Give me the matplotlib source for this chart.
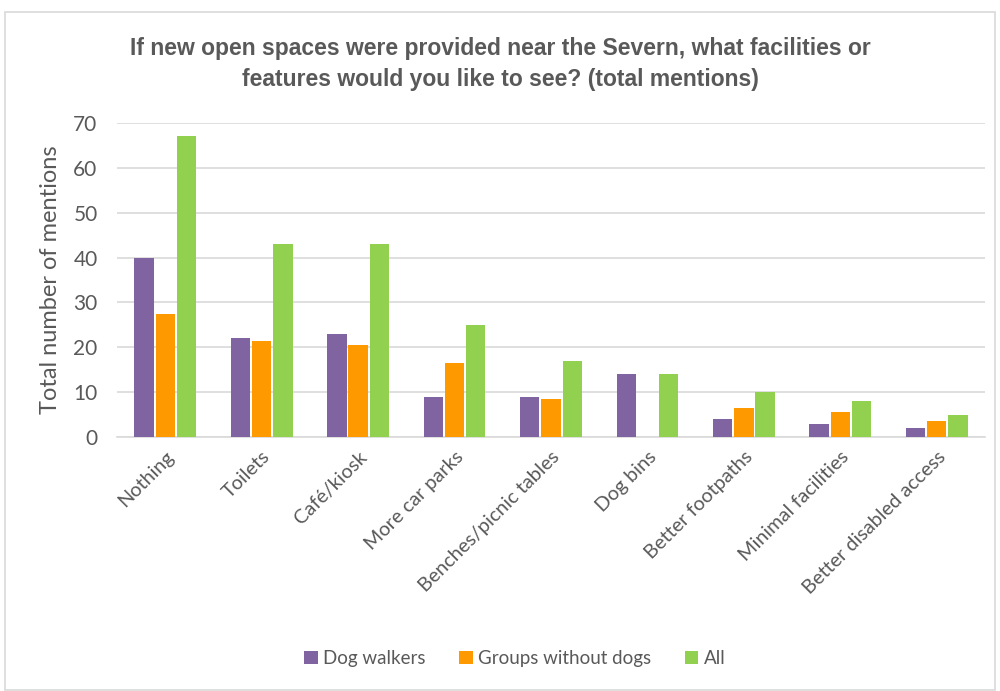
import numpy as np
import matplotlib.pyplot as plt
from matplotlib.patches import Rectangle

categories = ['Nothing', 'Toilets', 'Café/kiosk', 'More car parks', 'Benches/picnic tables',
              'Dog bins', 'Better footpaths', 'Minimal facilities', 'Better disabled access']
dog_walkers = [40, 22, 23, 9, 9, 14, 4, 3, 2]
groups_without_dogs = [27.5, 21.5, 20.5, 16.5, 8.5, 0, 6.5, 5.5, 3.5]
all_groups = [67, 43, 43, 25, 17, 14, 10, 8, 5]

grey = '#595959'
plt.rcParams['font.family'] = ['Lato', 'DejaVu Sans']

fig = plt.figure(figsize=(10, 6.91), dpi=100)
ax = fig.add_axes([0.117, 0.3676, 0.868, 0.4544])

# light frame around the whole chart area
fig.patches.append(Rectangle((0.005, 0.002), 0.99, 0.98, transform=fig.transFigure,
                             fill=False, edgecolor='#d9d9d9', linewidth=1.2))

x = np.arange(len(categories))
w = 0.2
gap = 0.02
ax.bar(x - w - gap, dog_walkers, w, color='#8064A2', label='Dog walkers', zorder=3)
ax.bar(x, groups_without_dogs, w, color='#FF9900', label='Groups without dogs', zorder=3)
ax.bar(x + w + gap, all_groups, w, color='#92D050', label='All', zorder=3)

ax.set_xlim(-0.5, len(categories) - 0.5)
ax.set_ylim(0, 70)
ax.set_yticks(range(0, 71, 10))
ax.yaxis.grid(True, color='#d9d9d9', linewidth=1.2, zorder=0)
for s in ['top', 'right', 'left']:
    ax.spines[s].set_visible(False)
ax.spines['bottom'].set_color('#d9d9d9')
ax.spines['bottom'].set_linewidth(1.2)
ax.tick_params(axis='both', length=0, colors=grey)
ax.tick_params(axis='y', labelsize=15, pad=14)
ax.set_xticks(x)
ax.set_xticklabels(categories, rotation=45, ha='right', rotation_mode='anchor',
                   fontsize=14.3, color=grey)
ax.tick_params(axis='x', pad=8)
ax.set_ylabel('Total number of mentions', fontsize=17, color=grey, labelpad=9)

fig.text(0.5, 0.908, 'If new open spaces were provided near the Severn, what facilities or\n'
         'features would you like to see? (total mentions)',
         ha='center', va='center', fontsize=16.5, fontweight='bold', color=grey,
         family=['Liberation Sans', 'DejaVu Sans'], linespacing=1.45)

fig.legend(loc='center', bbox_to_anchor=(0.515, 0.047), ncol=3, frameon=False,
           fontsize=13.5, labelcolor=grey, handlelength=0.7, handleheight=0.7,
           handletextpad=0.3, columnspacing=1.8)

fig.savefig('out.png', dpi=100)
